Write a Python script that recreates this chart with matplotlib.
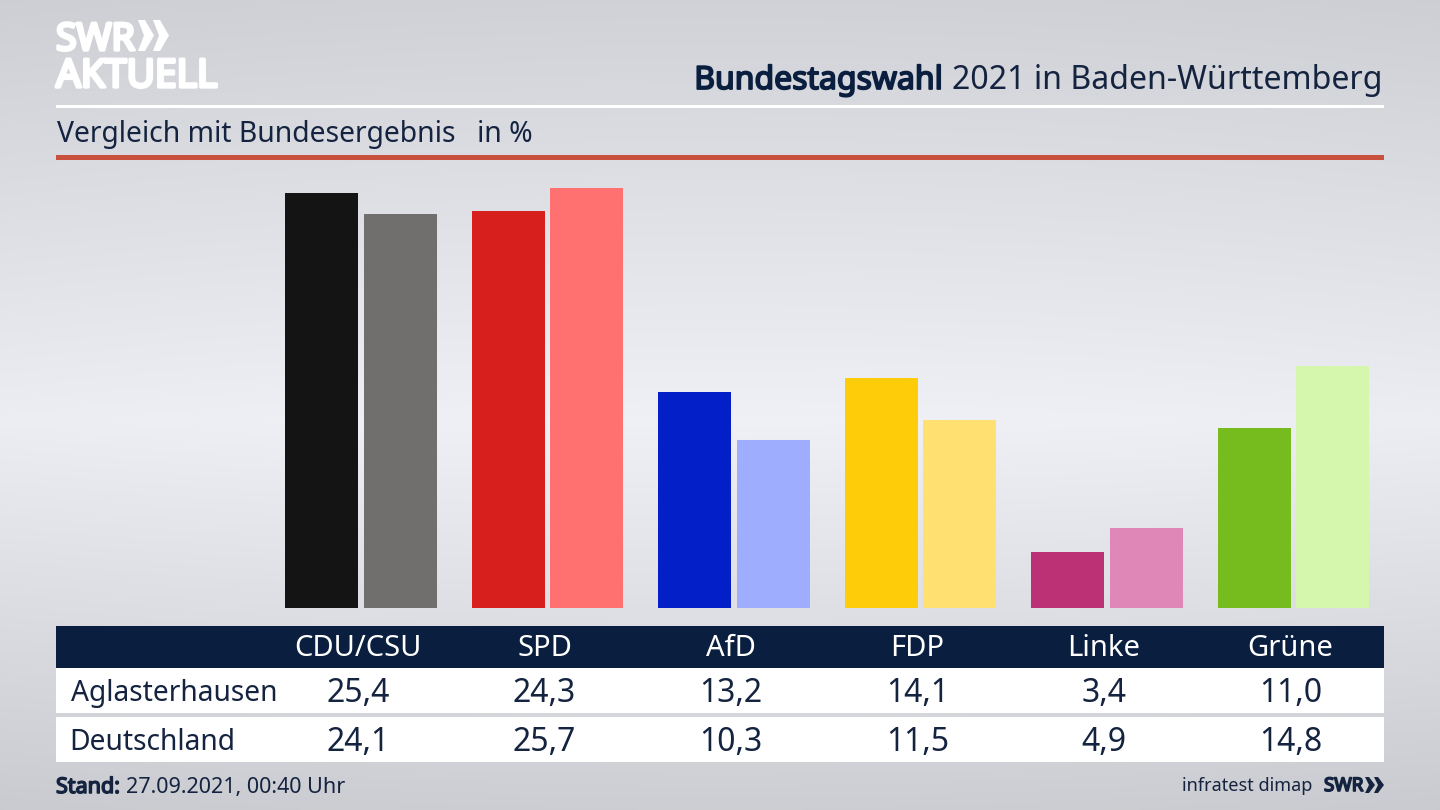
# import 3rd party packages
import numpy as np
from matplotlib import pyplot as plt
from matplotlib import patheffects
from matplotlib.patches import Polygon, Rectangle

plt.rcParams['font.family'] = ['Noto Sans', 'DejaVu Sans']

parties = ['CDU/CSU', 'SPD', 'AfD', 'FDP', 'Linke', 'Grüne']
aglasterhausen = [25.4, 24.3, 13.2, 14.1, 3.4, 11.0]
deutschland = [24.1, 25.7, 10.3, 11.5, 4.9, 14.8]
row_names = ['Aglasterhausen', 'Deutschland']

colors_local = ['#141414', '#d71f1d', '#0320c8', '#ffcc0a', '#bc3076', '#77bc1f']
colors_federal = ['#716f6d', '#ff7170', '#9fadff', '#ffe070', '#df88b7', '#d4f6ad']

NAVY = '#0a1f3f'
TEXT = '#14233f'
W, H = 1440, 810


def heavy(color, width):
    # the installed Noto Sans gives no bold face here, so thicken with a stroke
    return [patheffects.withStroke(linewidth=width, foreground=color)]


fig = plt.figure(figsize=(W / 100, H / 100), dpi=100)

# background gradient, lightest a bit below the middle
bg = fig.add_axes([0, 0, 1, 1], zorder=0)
yy = np.linspace(0, 1, 200)
top = np.interp(yy, [0, 0.52, 1], [0.805, 0.925, 0.79])
xx = np.linspace(-1, 1, 200)
grad = top[:, None] + 0.012 * (1 - xx[None, :] ** 2)
bg.imshow(np.dstack([grad, grad + 0.006, grad + 0.025]).clip(0, 1),
          extent=[0, W, H, 0], aspect='auto', interpolation='bilinear')
bg.set_xlim(0, W)
bg.set_ylim(H, 0)
bg.axis('off')

# header rules
bg.add_patch(Rectangle((56, 104.5), 1328, 3, color='white', lw=0))
bg.add_patch(Rectangle((56, 155), 1328, 5, color='#c8503c', lw=0))

# logo
bg.text(56, 50, 'SWR', color='white', fontsize=27, va='baseline', path_effects=heavy('white', 2.4))
bg.text(56, 87, 'AKTUELL', color='white', fontsize=28, va='baseline', path_effects=heavy('white', 2.4))
for x0 in (138, 153):
    bg.add_patch(Polygon([(x0, 20), (x0 + 7, 20), (x0 + 16, 35.5), (x0 + 7, 51), (x0, 51), (x0 + 6, 35.5)],
                         color='white', lw=0))

# title, regular part first so the bold one can sit against it
title = bg.text(1383, 89, '2021 in Baden-Württemberg', color=TEXT, fontsize=23.1, ha='right', va='baseline')
fig.canvas.draw()
renderer = fig.canvas.get_renderer()
title_left = title.get_window_extent(renderer).x0
bg.text(title_left - 9, 89, 'Bundestagswahl', color=NAVY, fontsize=23, ha='right', va='baseline',
        path_effects=heavy(NAVY, 1.3))

bg.text(57, 142, 'Vergleich mit Bundesergebnis', color=TEXT, fontsize=20.4, va='baseline')
bg.text(477, 142, 'in %', color=TEXT, fontsize=20.4, va='baseline')

# bars
ax = fig.add_axes([267.75 / W, (H - 608) / H, (1386.75 - 267.75) / W, 448 / H], zorder=1)
ax.patch.set_alpha(0)
pos = np.arange(len(parties))
ax.bar(pos - 0.2105, aglasterhausen, width=0.394, color=colors_local)
ax.bar(pos + 0.2105, deutschland, width=0.394, color=colors_federal)
ax.set_xlim(-0.5, 5.5)
ax.set_ylim(0, 448 / 16.34)
ax.axis('off')

# table
bg.add_patch(Rectangle((56, 626), 1328, 42, color=NAVY, lw=0))
bg.add_patch(Rectangle((56, 668), 1328, 45, color='white', lw=0))
bg.add_patch(Rectangle((56, 717), 1328, 45, color='white', lw=0))

bg.text(71, 701, row_names[0], color=TEXT, fontsize=20.3, va='baseline')
bg.text(69.5, 750, row_names[1], color=TEXT, fontsize=20.3, va='baseline')
for i, party in enumerate(parties):
    cx = 358 + 186.5 * i
    bg.text(cx, 656, party, color='white', fontsize=21, ha='center', va='baseline')
    bg.text(cx, 702, f'{aglasterhausen[i]:.1f}'.replace('.', ','), color=TEXT, fontsize=23, ha='center', va='baseline')
    bg.text(cx, 751, f'{deutschland[i]:.1f}'.replace('.', ','), color=TEXT, fontsize=23, ha='center', va='baseline')

# footer
bg.text(56, 793, 'Stand:', color=TEXT, fontsize=15.5, va='baseline', path_effects=heavy(TEXT, 1.1))
bg.text(126, 793, '27.09.2021, 00:40 Uhr', color=TEXT, fontsize=15.5, va='baseline')
bg.text(1312, 791, 'infratest dimap', color=TEXT, fontsize=13, ha='right', va='baseline')
bg.text(1324, 791, 'SWR', color=TEXT, fontsize=13.5, va='baseline', path_effects=heavy(TEXT, 1.2))
for x0 in (1365, 1374):
    bg.add_patch(Polygon([(x0, 777), (x0 + 4, 777), (x0 + 10, 785), (x0 + 4, 793), (x0, 793), (x0 + 4, 785)],
                         color=TEXT, lw=0))

fig.savefig('out.png', dpi=100)
plt.close()
